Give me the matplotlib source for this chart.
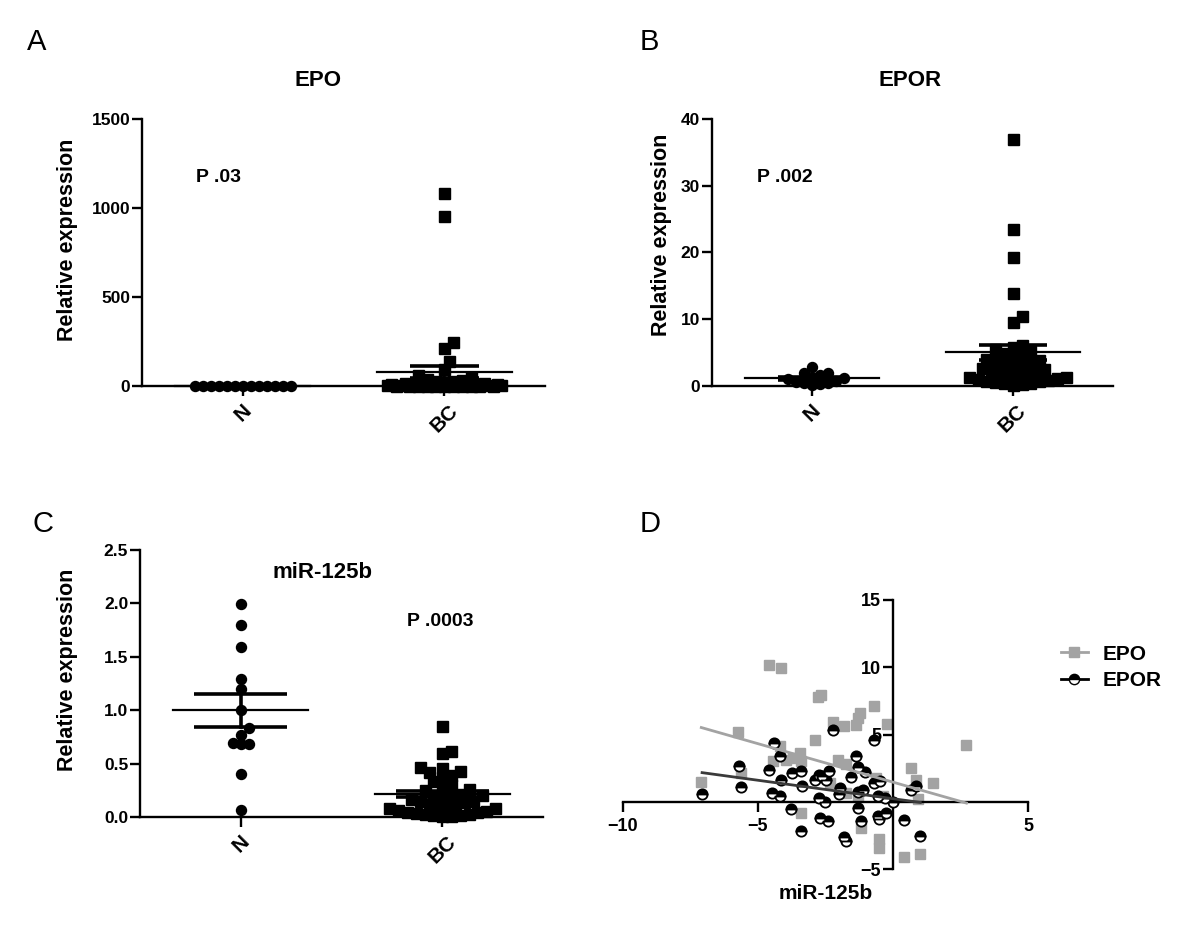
import numpy as np
import matplotlib
matplotlib.use('Agg')
import matplotlib.pyplot as plt
from matplotlib.lines import Line2D

plt.rcParams['font.family'] = ['Liberation Sans', 'DejaVu Sans']
plt.rcParams['font.weight'] = 'bold'

W, H = 1200, 946

groups = ['N', 'BC']

# A: EPO relative expression
epo_n = [0.3, 0.5, 0.6, 0.7, 0.8, 0.9, 1.0, 1.1, 1.2, 1.3, 1.4, 1.5, 1.7]
epo_bc = [1085, 955, 245, 215, 140, 95, 60, 50, 42, 36, 30, 26, 22, 19, 16, 14,
          12, 10, 9, 8, 7, 6, 5, 5, 4, 4, 3, 3, 3, 2, 2, 2, 2, 1, 1, 1, 1, 1, 0.5, 0.5]
epo_ticks = [0, 500, 1000, 1500]

# B: EPOR relative expression
epor_n = [2.85, 2.0, 1.9, 1.7, 1.3, 1.2, 1.0, 0.8, 0.6, 0.5, 0.4, 0.3, 0.1]
epor_bc = [37, 23.5, 19.4, 14.0, 10.5, 9.6, 6.2, 5.8, 5.5, 5.2, 5.0, 4.7, 4.4, 4.1,
           3.9, 3.7, 3.5, 3.3, 3.1, 2.9, 2.7, 2.5, 2.3, 2.1, 1.9, 1.7, 1.6, 1.5,
           1.4, 1.3, 1.2, 1.0, 0.9, 0.8, 0.7, 0.6, 0.5, 0.4, 0.3, 0.2]
epor_ticks = [0, 10, 20, 30, 40]

# C: miR-125b relative expression
mir_n = [1.99, 1.80, 1.59, 1.29, 1.20, 1.00, 0.83, 0.77, 0.69, 0.68, 0.68, 0.40, 0.07]
mir_bc = [0.85, 0.62, 0.60, 0.47, 0.46, 0.43, 0.42, 0.39, 0.37, 0.34, 0.30, 0.28,
          0.26, 0.25, 0.22, 0.21, 0.20, 0.20, 0.18, 0.17, 0.15, 0.14, 0.12, 0.10,
          0.09, 0.08, 0.08, 0.07, 0.06, 0.05, 0.05, 0.04, 0.03, 0.03, 0.02, 0.02,
          0.01, 0.01, 0.10, 0.15]
mir_ticks = [0.0, 0.5, 1.0, 1.5, 2.0, 2.5]

# D: correlation with miR-125b
epo_x = [-4.60, -4.14, -2.78, -2.65, -2.22, -1.83, -1.36, -1.30, -1.23, -0.72, -0.22,
         -2.90, -5.74, 2.72, 0.68, 0.86, 1.48, -7.10, -5.62, -4.20, -4.44, -3.70,
         -3.46, -3.40, -2.04, -1.73, -0.62, -1.73, -1.30, -3.42, -1.17, -0.52, -0.52,
         0.40, 1.01, 0.93, -2.35, -3.95, -0.37]
epo_y = [10.17, 9.93, 7.78, 7.95, 5.90, 5.65, 5.73, 6.22, 6.59, 7.14, 5.80, 4.57,
         5.16, 4.25, 2.52, 1.60, 1.41, 1.46, 2.15, 4.12, 3.01, 3.26, 3.63, 3.01,
         3.14, 2.84, 1.78, 0.67, 0.42, -0.81, -1.93, -2.79, -3.41, -4.10, -3.85,
         0.17, 1.41, 3.14, 0.42]
epor_x = [-7.07, -5.72, -5.62, -4.60, -4.42, -4.20, -4.48, -4.20, -4.14, -3.77, -3.73,
          -3.42, -3.36, -3.42, -2.90, -2.74, -2.63, -2.47, -2.37, -2.22, -2.75, -2.51,
          -2.69, -2.41, -1.98, -2.00, -1.83, -1.73, -1.54, -1.38, -1.30, -1.05, -1.11,
          -1.30, -1.30, -1.17, -0.72, -0.70, -0.49, -0.56, -0.52, -0.25, -0.31, 0.00,
          0.40, 0.68, 0.86, 1.01, -0.56]
epor_y = [0.59, 2.69, 1.11, 2.35, 4.37, 3.38, 0.62, 0.42, 1.60, -0.52, 2.15, 2.32,
          1.16, -2.17, 1.65, 2.02, 1.90, 1.65, 2.32, 5.31, 0.30, 0.00, -1.19, -1.43,
          1.04, 0.54, -2.59, -2.91, 1.85, 3.43, 2.59, 2.20, 0.91, 0.72, -0.44, -1.43,
          4.62, 1.36, 1.53, -1.06, -1.31, -0.81, 0.30, 0.00, -1.38, 0.86, 1.16,
          -2.54, 0.42]
# regression lines (slope, intercept)
epo_fit = (-0.572, 1.457)
epor_fit = (-0.274, 0.227)

fig = plt.figure(figsize=(W / 100, H / 100), dpi=100)


def px_axes(l, t, r, b):
    return fig.add_axes([l / W, 1 - b / H, (r - l) / W, (b - t) / H])


def swarm(vals, ppu_y, ppu_x, d, cap):
    # spread points sideways, GraphPad style, but never wider than cap (px)
    ys = np.asarray(vals, float) * ppu_y
    xs = np.zeros(len(ys))
    placed = []
    step = 0.4 * d
    cands = [0.0]
    k = 1
    while k * step <= cap:
        cands += [k * step, -k * step]
        k += 1
    for i in np.argsort(ys):
        best, best_d = 0.0, -1
        for cx in cands:
            md = min([np.hypot(cx - px, ys[i] - py) for px, py in placed] or [1e9])
            if md >= 0.8 * d:
                best = cx
                break
            if md > best_d:
                best, best_d = cx, md
        xs[i] = best
        placed.append((best, ys[i]))
    return xs / ppu_x


def dot_plot(ax, n_vals, bc_vals, ticks, labels, sem_half):
    ymax = ticks[-1]
    box = ax.get_position()
    ppu_x = box.width * W / 2.0
    ppu_y = box.height * H / ymax
    for i, (vals, mk, d, cap) in enumerate([(n_vals, 'o', 10, 50), (bc_vals, 's', 11, 60)]):
        vals = np.asarray(vals, float)
        off = swarm(vals, ppu_y, ppu_x, d, cap)
        ax.plot(i + off, vals, ls='none', marker=mk, ms=d * 0.72, color='black',
                mec='black', clip_on=False, zorder=3)
        m = vals.mean()
        se = vals.std(ddof=1) / np.sqrt(len(vals))
        ax.plot([i - 0.335, i + 0.335], [m, m], color='black', lw=1.6, zorder=4, clip_on=False)
        for v in (m - se, m + se):
            ax.plot([i - sem_half, i + sem_half], [v, v], color='black', lw=2.6,
                    zorder=4, clip_on=False, solid_capstyle='butt')
        ax.plot([i, i], [max(m - se, 0), m + se], color='black', lw=2.6, zorder=4, clip_on=False)
    ax.set_xlim(-0.5, 1.5)
    ax.set_ylim(0, ymax)
    ax.set_yticks(ticks)
    ax.set_yticklabels(labels)
    ax.set_xticks([0, 1])
    ax.set_xticklabels(groups, rotation=45, ha='center', fontsize=15)
    for s in ('top', 'right'):
        ax.spines[s].set_visible(False)
    for s in ('left', 'bottom'):
        ax.spines[s].set_linewidth(1.7)
    ax.tick_params(axis='y', direction='out', length=7, width=1.7, labelsize=12.5, pad=1.5)
    ax.tick_params(axis='x', direction='out', length=7, width=1.7, pad=4)


axA = px_axes(142, 119, 545, 386)
dot_plot(axA, epo_n, epo_bc, epo_ticks, [str(t) for t in epo_ticks], 0.17)
axB = px_axes(712, 119, 1113, 386)
dot_plot(axB, epor_n, epor_bc, epor_ticks, [str(t) for t in epor_ticks], 0.17)
axC = px_axes(140, 550, 543, 817)
dot_plot(axC, mir_n, mir_bc, mir_ticks, ['%.1f' % t for t in mir_ticks], 0.23)

# D scatter with axes through origin
axD = px_axes(623, 600, 1028, 869)
axD.set_xlim(-10, 5)
axD.set_ylim(-5, 15)
axD.plot(epo_x, epo_y, ls='none', marker='s', ms=6.6, color='#a3a3a3', mec='#a3a3a3',
         zorder=2, clip_on=False)
axD.plot(epor_x, epor_y, ls='none', marker='o', ms=7.4, color='black', fillstyle='top',
         markerfacecoloralt='white', mec='black', mew=1.3, zorder=3, clip_on=False)
for xs, (a, b), col in [(epo_x, epo_fit, '#a3a3a3'), (epor_x, epor_fit, '#3a3a3a')]:
    xl = np.array([min(xs), max(xs)])
    axD.plot(xl, a * xl + b, color=col, lw=2, zorder=4)
axD.spines['left'].set_position(('data', 0))
axD.spines['bottom'].set_position(('data', 0))
for s in ('top', 'right'):
    axD.spines[s].set_visible(False)
for s in ('left', 'bottom'):
    axD.spines[s].set_linewidth(1.7)
axD.set_xticks([-10, -5, 5])
axD.set_yticks([-5, 5, 10, 15])
axD.tick_params(direction='out', length=7, width=1.7, labelsize=13)
axD.tick_params(axis='x', pad=5)
axD.tick_params(axis='y', pad=1.5)

handles = [Line2D([], [], color='#a3a3a3', lw=2, marker='s', ms=6.6, mec='#a3a3a3'),
           Line2D([], [], color='black', lw=2, marker='o', ms=7.4, fillstyle='top',
                  markerfacecolor='black', markerfacecoloralt='white', mec='black')]
fig.legend(handles, ['EPO', 'EPOR'], loc='upper left', bbox_to_anchor=(1042 / W, 1 - 626 / H),
           frameon=False, fontsize=15, handlelength=1.3, handletextpad=0.7, labelspacing=0.35)

# texts
for x, y, s in [(27, 42, 'A'), (640, 42, 'B'), (32, 524, 'C'), (640, 524, 'D')]:
    fig.text(x / W, 1 - y / H, s, fontsize=21, fontweight='normal', ha='left', va='center')
for x, y, s in [(318, 81, 'EPO'), (910, 81, 'EPOR'), (322, 573, 'miR-125b')]:
    fig.text(x / W, 1 - y / H, s, fontsize=16, ha='center', va='center')
for x, y, s in [(196, 178, 'P .03'), (757, 178, 'P .002'), (407, 621, 'P .0003')]:
    fig.text(x / W, 1 - y / H, s, fontsize=14, ha='left', va='center')
for x, y in [(67, 240), (661, 235), (67, 670)]:
    fig.text(x / W, 1 - y / H, 'Relative expression', fontsize=15.5, rotation=90,
             ha='center', va='center')
fig.text(826 / W, 1 - 893 / H, 'miR-125b', fontsize=15, ha='center', va='center')

fig.savefig('out.png', dpi=100)
